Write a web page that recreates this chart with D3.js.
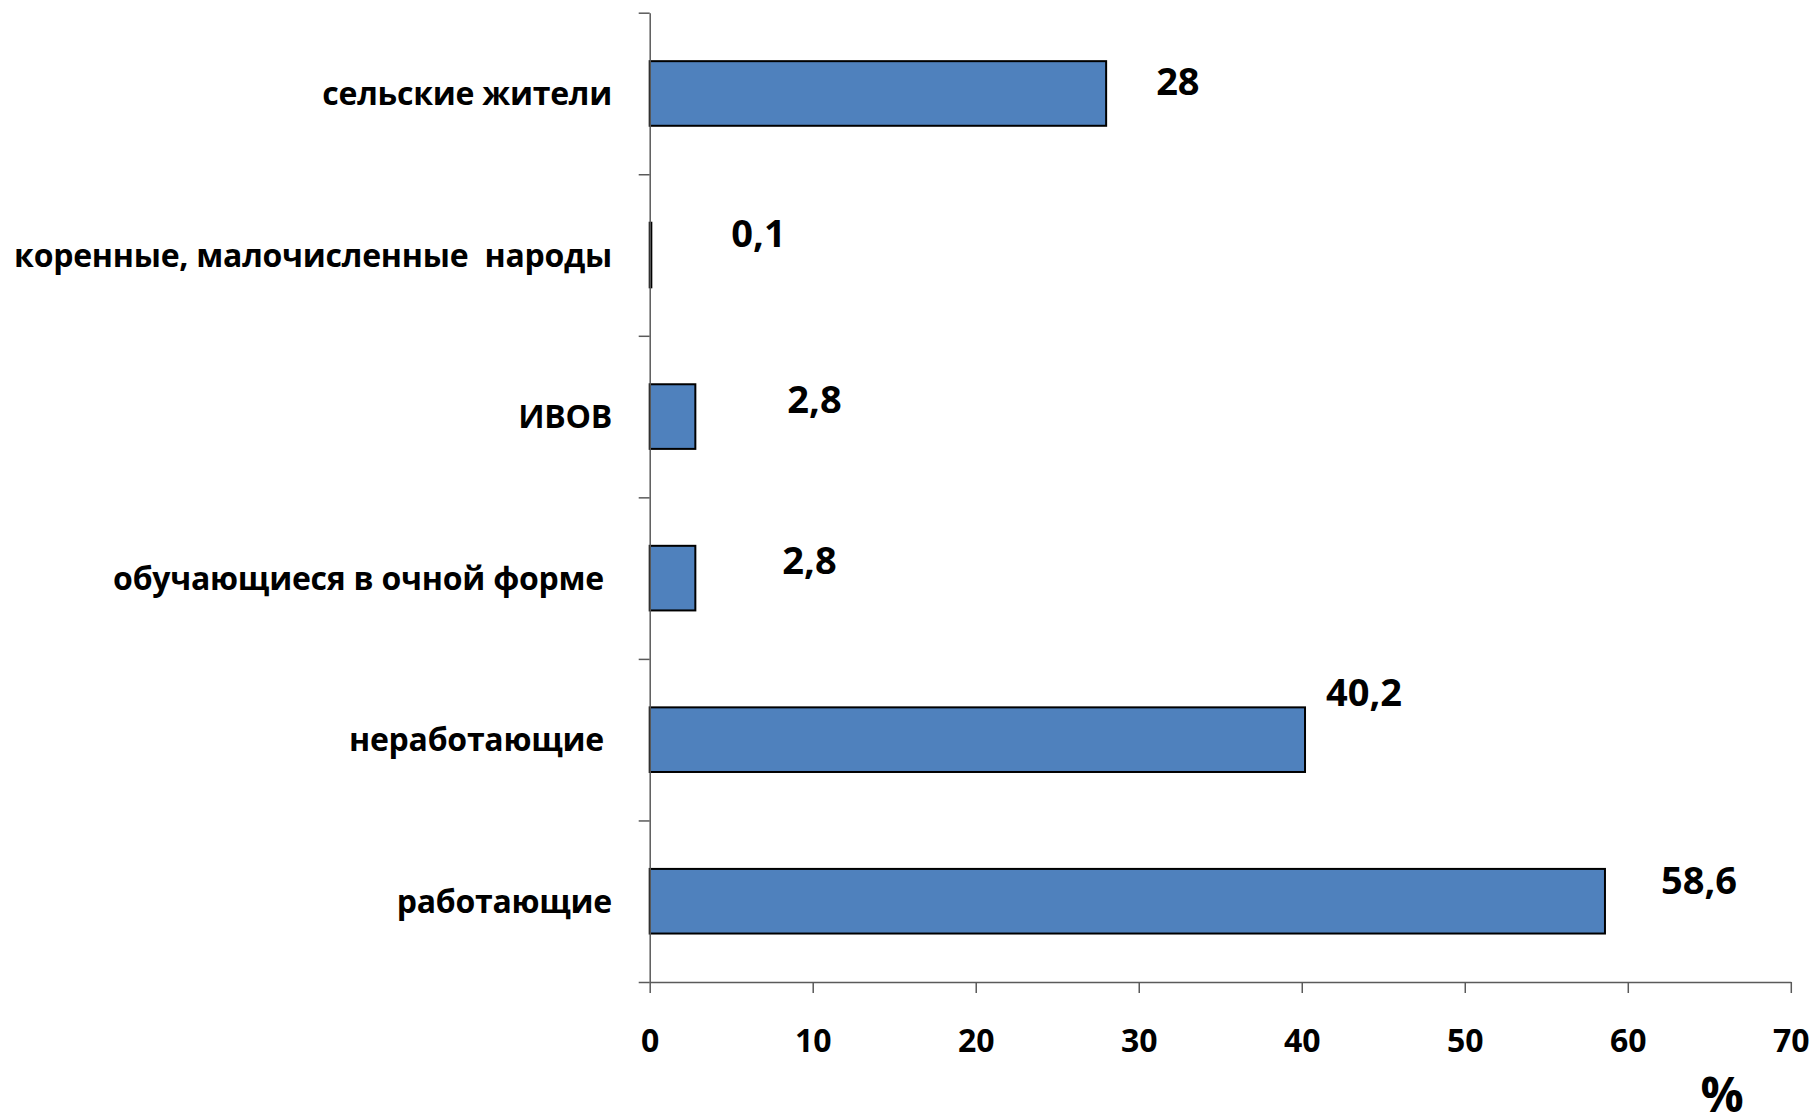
<!DOCTYPE html>
<html>
<head>
<meta charset="utf-8">
<script src="https://cdn.jsdelivr.net/npm/d3@7"></script>
<style>
  html, body { margin: 0; padding: 0; background: #fff; }
  svg { display: block; }
  text { font-family: "Open Sans", "Noto Sans", sans-serif; font-weight: bold; fill: #000; white-space: pre; }
</style>
</head>
<body>
<svg id="chart" width="1814" height="1117"></svg>
<script>
// Categories, top to bottom
const categories = [
  "сельские жители",
  "коренные, малочисленные  народы",
  "ИВОВ",
  "обучающиеся в очной форме ",
  "неработающие ",
  "работающие"
];
// Share, %
const values = [28, 0.1, 2.8, 2.8, 40.2, 58.6];
// Value axis ticks
const xTicks = [0, 10, 20, 30, 40, 50, 60, 70];
const axisTitle = "%";

// Hand-placed offsets of the value labels: [dx from bar end, dy from band centre]
const labelNudge = [[50, 2], [80, -8], [92, -4], [87, -4], [21, -34], [56, -7]];

const svg = d3.select("#chart");
const plot = { left: 649.7, right: 1790.8, top: 12.7, bottom: 982 };

const x = d3.scaleLinear().domain([0, 70]).range([plot.left, plot.right]);
const y = d3.scaleBand().domain(categories).range([plot.top, plot.bottom])
  .paddingInner(0.6).paddingOuter(0.3);
// category boundaries for the tick marks
const yIdx = d3.scaleLinear().domain([0, categories.length]).range([plot.top, plot.bottom]);

const axisColor = "#5a5a5a";

// bars
svg.append("g").selectAll("rect")
  .data(values)
  .join("rect")
  .attr("x", x(0))
  .attr("y", (d, i) => y(categories[i]))
  .attr("width", d => x(d) - x(0))
  .attr("height", y.bandwidth())
  .attr("fill", "#4f81bd")
  .attr("stroke", "#000")
  .attr("stroke-width", 2);

// value axis
const gx = svg.append("g")
  .attr("transform", `translate(0,${plot.bottom})`)
  .call(d3.axisBottom(x).tickValues(xTicks).tickSize(11).tickSizeOuter(0).tickFormat(d3.format("d")));
gx.select(".domain").attr("stroke", axisColor).attr("stroke-width", 1.5);
gx.selectAll(".tick line").attr("stroke", axisColor).attr("stroke-width", 1.5);
gx.selectAll(".tick text")
  .attr("y", 70).attr("dy", 0)
  .style("font-size", "32px");

// category axis
const gy = svg.append("g")
  .attr("transform", `translate(${plot.left},0)`)
  .call(d3.axisLeft(yIdx).tickValues(d3.range(categories.length + 1)).tickSize(11).tickSizeOuter(0).tickFormat(""));
gy.select(".domain").attr("stroke", axisColor).attr("stroke-width", 1.5);
gy.selectAll(".tick line").attr("stroke", axisColor).attr("stroke-width", 1.5);

// category labels
svg.append("g").selectAll("text")
  .data(categories)
  .join("text")
  .attr("x", 612)
  .attr("y", d => y(d) + y.bandwidth() / 2 + 11.5)
  .attr("text-anchor", "end")
  .style("font-size", "32px")
  .style("letter-spacing", "-0.25px")
  .text(d => d);

// value labels
svg.append("g").selectAll("text")
  .data(values)
  .join("text")
  .attr("x", (d, i) => x(d) + labelNudge[i][0])
  .attr("y", (d, i) => y(categories[i]) + y.bandwidth() / 2 + labelNudge[i][1])
  .style("font-size", "38px")
  .text(d => String(d).replace(".", ","));

// axis title
svg.append("text")
  .attr("x", 1722)
  .attr("y", 1112)
  .attr("text-anchor", "middle")
  .style("font-size", "48px")
  .text(axisTitle);
</script>
</body>
</html>
